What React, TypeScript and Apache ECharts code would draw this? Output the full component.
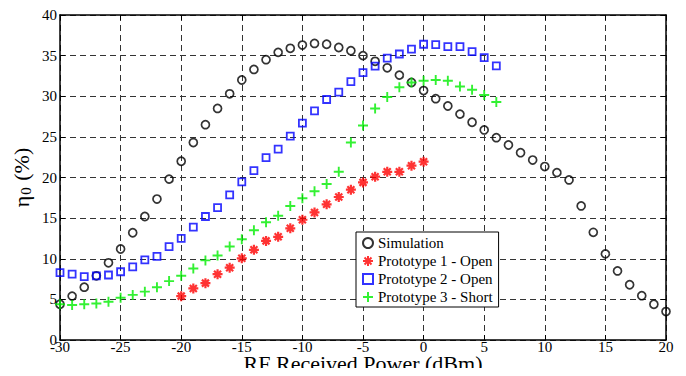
import React, { useEffect, useRef } from "react";
import * as echarts from "echarts";

const simX = [-30, -29, -28, -27, -26, -25, -24, -23, -22, -21, -20, -19, -18, -17, -16, -15, -14, -13, -12, -11, -10, -9, -8, -7, -6, -5, -4, -3, -2, -1, 0, 1, 2, 3, 4, 5, 6, 7, 8, 9, 10, 11, 12, 13, 14, 15, 16, 17, 18, 19, 20];
const simY = [4.4, 5.4, 6.5, 7.9, 9.5, 11.2, 13.2, 15.2, 17.35, 19.8, 22.0, 24.3, 26.5, 28.5, 30.3, 32.0, 33.3, 34.5, 35.4, 35.9, 36.3, 36.5, 36.4, 36.0, 35.6, 35.0, 34.3, 33.5, 32.6, 31.7, 30.7, 29.7, 28.8, 27.8, 26.8, 25.85, 24.9, 24.0, 23.05, 22.15, 21.35, 20.6, 19.7, 16.5, 13.25, 10.6, 8.5, 6.8, 5.45, 4.4, 3.5];

const p1X = [-20, -19, -18, -17, -16, -15, -14, -13, -12, -11, -10, -9, -8, -7, -6, -5, -4, -3, -2, -1, 0];
const p1Y = [5.4, 6.35, 7.0, 8.1, 8.9, 10.05, 11.1, 12.2, 12.7, 13.75, 14.8, 15.7, 16.7, 17.6, 18.5, 19.4, 20.1, 20.7, 20.7, 21.45, 21.95];

const p2X = [-30, -29, -28, -27, -26, -25, -24, -23, -22, -21, -20, -19, -18, -17, -16, -15, -14, -13, -12, -11, -10, -9, -8, -7, -6, -5, -4, -3, -2, -1, 0, 1, 2, 3, 4, 5, 6];
const p2Y = [8.3, 8.1, 7.8, 7.9, 8.0, 8.4, 9.0, 9.85, 10.3, 11.5, 12.5, 13.9, 15.2, 16.3, 17.85, 19.45, 20.85, 22.45, 23.5, 25.1, 26.7, 28.2, 29.6, 30.5, 31.8, 32.9, 33.7, 34.7, 35.2, 35.8, 36.4, 36.35, 36.1, 36.1, 35.5, 34.75, 33.75];

const p3X = [-30, -29, -28, -27, -26, -25, -24, -23, -22, -21, -20, -19, -18, -17, -16, -15, -14, -13, -12, -11, -10, -9, -8, -7, -6, -5, -4, -3, -2, -1, 0, 1, 2, 3, 4, 5, 6];
const p3Y = [4.4, 4.3, 4.4, 4.5, 4.7, 5.2, 5.55, 5.95, 6.5, 7.25, 7.9, 8.8, 9.8, 10.4, 11.5, 12.4, 13.5, 14.5, 15.3, 16.5, 17.45, 18.3, 19.2, 20.7, 24.3, 26.4, 28.5, 29.9, 31.1, 31.7, 31.9, 32.0, 31.9, 31.2, 30.8, 30.15, 29.3];

const seriesNames = ["Simulation", "Prototype 1 - Open", "Prototype 2 - Open", "Prototype 3 - Short"];

const FONT = "Liberation Serif";

const zip = (xs: number[], ys: number[]) => xs.map((x, i) => [x, ys[i]]);

export default function App() {
  const ref = useRef<HTMLDivElement>(null);
  useEffect(() => {
    if (!ref.current) return;
    const chart = echarts.init(ref.current, undefined, { renderer: "svg" });
    const xBase = { type: "value", min: -30, max: 20, interval: 5 };
    const yBase = { type: "value", min: 0, max: 40, interval: 5 };
    const axisLine = { show: true, onZero: false, lineStyle: { color: "#000", width: 1.5 } };
    const axisTick = { show: true, inside: true, length: 5, lineStyle: { color: "#000", width: 1 } };
    const splitLine = { show: true, lineStyle: { color: "#333", width: 1, type: [6, 4] } };
    chart.setOption({
      animation: false,
      backgroundColor: "#fff",
      textStyle: { fontFamily: FONT },
      grid: { left: 60, right: 20, top: 15, bottom: 36, outerBoundsMode: "none", containLabel: false },
      legend: {
        orient: "vertical",
        left: 356,
        top: 232,
        data: seriesNames,
        backgroundColor: "#fff",
        borderColor: "#000",
        borderWidth: 1,
        borderRadius: 0,
        padding: [3, 6, 2, 6],
        itemGap: 2,
        itemWidth: 10,
        itemHeight: 10,
        textStyle: { fontFamily: FONT, fontSize: 15, color: "#000", lineHeight: 16 },
      },
      xAxis: [
        {
          ...xBase,
          position: "bottom",
          axisLine,
          axisTick,
          splitLine,
          axisLabel: { fontFamily: FONT, fontSize: 15, lineHeight: 12, color: "#000", margin: 1, hideOverlap: false },
          name: "RF Received Power (dBm)",
          nameLocation: "middle",
          nameGap: 13,
          nameMoveOverlap: false,
          nameTextStyle: { fontFamily: FONT, fontSize: 22, lineHeight: 20, color: "#000", verticalAlign: "top" },
        },
        {
          ...xBase,
          position: "top",
          axisLine,
          axisTick,
          splitLine: { show: false },
          axisLabel: { show: false },
        },
      ],
      yAxis: [
        {
          ...yBase,
          position: "left",
          axisLine,
          axisTick,
          splitLine,
          axisLabel: { fontFamily: FONT, fontSize: 15, lineHeight: 12, color: "#000", margin: 3, hideOverlap: false },
          name: "{a|η}{b|0}{a| (%)}",
          nameLocation: "middle",
          nameGap: 27,
          nameMoveOverlap: false,
          nameTextStyle: {
            color: "#000",
            fontFamily: FONT,
            rich: {
              a: { fontFamily: FONT, fontSize: 22, color: "#000" },
              b: { fontFamily: FONT, fontSize: 15, color: "#000", padding: [9, 1, 0, 1] },
            },
          },
        },
        {
          ...yBase,
          position: "right",
          axisLine,
          axisTick,
          splitLine: { show: false },
          axisLabel: { show: false },
        },
      ],
      series: [
        {
          name: seriesNames[0],
          type: "scatter",
          data: zip(simX, simY),
          symbol: "circle",
          symbolSize: 8,
          itemStyle: { color: "rgba(0,0,0,0)", borderColor: "#000", borderWidth: 1.7 },
        },
        {
          name: seriesNames[1],
          type: "scatter",
          data: zip(p1X, p1Y),
          symbol: "path://M5,0L5,10M0,5L10,5M1.5,1.5L8.5,8.5M8.5,1.5L1.5,8.5",
          symbolSize: 10,
          itemStyle: { color: "rgba(0,0,0,0)", borderColor: "#ff0000", borderWidth: 2.2 },
        },
        {
          name: seriesNames[2],
          type: "scatter",
          data: zip(p2X, p2Y),
          symbol: "rect",
          symbolSize: 7,
          itemStyle: { color: "rgba(0,0,0,0)", borderColor: "#0000ff", borderWidth: 1.8 },
        },
        {
          name: seriesNames[3],
          type: "scatter",
          data: zip(p3X, p3Y),
          symbol: "path://M5,0L5,10M0,5L10,5",
          symbolSize: 10,
          itemStyle: { color: "rgba(0,0,0,0)", borderColor: "#00ee00", borderWidth: 1.9 },
        },
      ],
    });
    return () => chart.dispose();
  }, []);
  return <div ref={ref} style={{ width: 686, height: 376, margin: -8 }} />;
}
